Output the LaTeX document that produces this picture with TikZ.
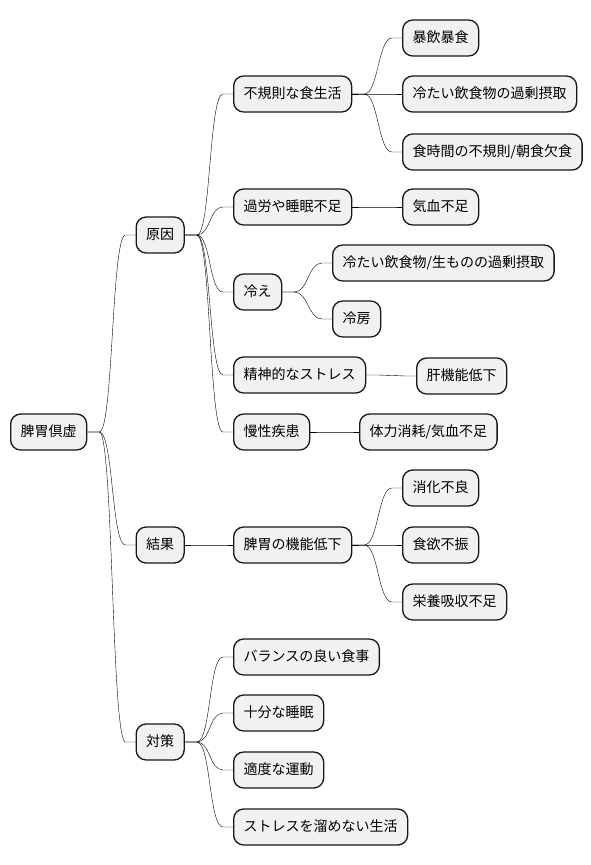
\documentclass[tikz,border=0pt]{standalone}
\usepackage{fontspec}
\setmainfont{Noto Sans CJK JP}
\usetikzlibrary{calc}
\definecolor{boxfill}{HTML}{F1F1F1}
\definecolor{boxline}{HTML}{181818}
\tikzset{
  mm/.style={draw=boxline, fill=boxfill, line width=1.3pt, rounded corners=10pt,
    minimum height=36pt, inner xsep=10pt, inner ysep=0pt, anchor=west,
    font=\fontsize{14}{16}\selectfont, text height=11pt, text depth=3pt},
  branch/.style={line width=1pt, draw=boxline,
    to path={-- ++(12,0) .. controls +(14,0) and ($(\tikztotarget)+(-24,0)$) .. ($(\tikztotarget)+(-10,0)$) -- (\tikztotarget)}}
}
\begin{document}
\begin{tikzpicture}[x=1pt,y=-1pt]
\useasboundingbox[fill=white] (0,0) rectangle (591,865);
% root
\node[mm] (root) at (10,432) {脾胃倶虚};
% level 1
\node[mm] (gen) at (135.5,235) {原因};
\node[mm] (kek) at (135.5,545) {結果};
\node[mm] (tai) at (135.5,742) {対策};
% level 2
\node[mm] (fuki) at (233,94) {不規則な食生活};
\node[mm] (karo) at (233,207) {過労や睡眠不足};
\node[mm] (hie) at (233,292) {冷え};
\node[mm] (sei) at (233,375) {精神的なストレス};
\node[mm] (man) at (233,432) {慢性疾患};
\node[mm] (hii) at (233,545) {脾胃の機能低下};
\node[mm] (bal) at (233,657) {バランスの良い食事};
\node[mm] (jub) at (233,713) {十分な睡眠};
\node[mm] (tek) at (233,770) {適度な運動};
\node[mm] (str) at (233,827) {ストレスを溜めない生活};
% level 3
\node[mm] (bou) at (402,38) {暴飲暴食};
\node[mm] (tsu) at (402,94) {冷たい飲食物の過剰摂取};
\node[mm] (shok) at (402,152) {食時間の不規則/朝食欠食};
\node[mm] (kik) at (402,207) {気血不足};
\node[mm] (tsu2) at (332,263) {冷たい飲食物/生ものの過剰摂取};
\node[mm] (rei) at (332,319) {冷房};
\node[mm] (kan) at (416,376) {肝機能低下};
\node[mm] (tai2) at (359,432) {体力消耗/気血不足};
\node[mm] (sho) at (402,488) {消化不良};
\node[mm] (shy) at (402,545) {食欲不振};
\node[mm] (eiy) at (402,602) {栄養吸収不足};
% connectors
\foreach \a/\b in {root/gen,root/kek,root/tai,
  gen/fuki,gen/karo,gen/hie,gen/sei,gen/man,
  kek/hii,
  tai/bal,tai/jub,tai/tek,tai/str,
  fuki/bou,fuki/tsu,fuki/shok,
  karo/kik,
  hie/tsu2,hie/rei,
  sei/kan,
  man/tai2,
  hii/sho,hii/shy,hii/eiy}
  \draw (\a.east) to[branch] (\b.west);
\end{tikzpicture}
\end{document}
